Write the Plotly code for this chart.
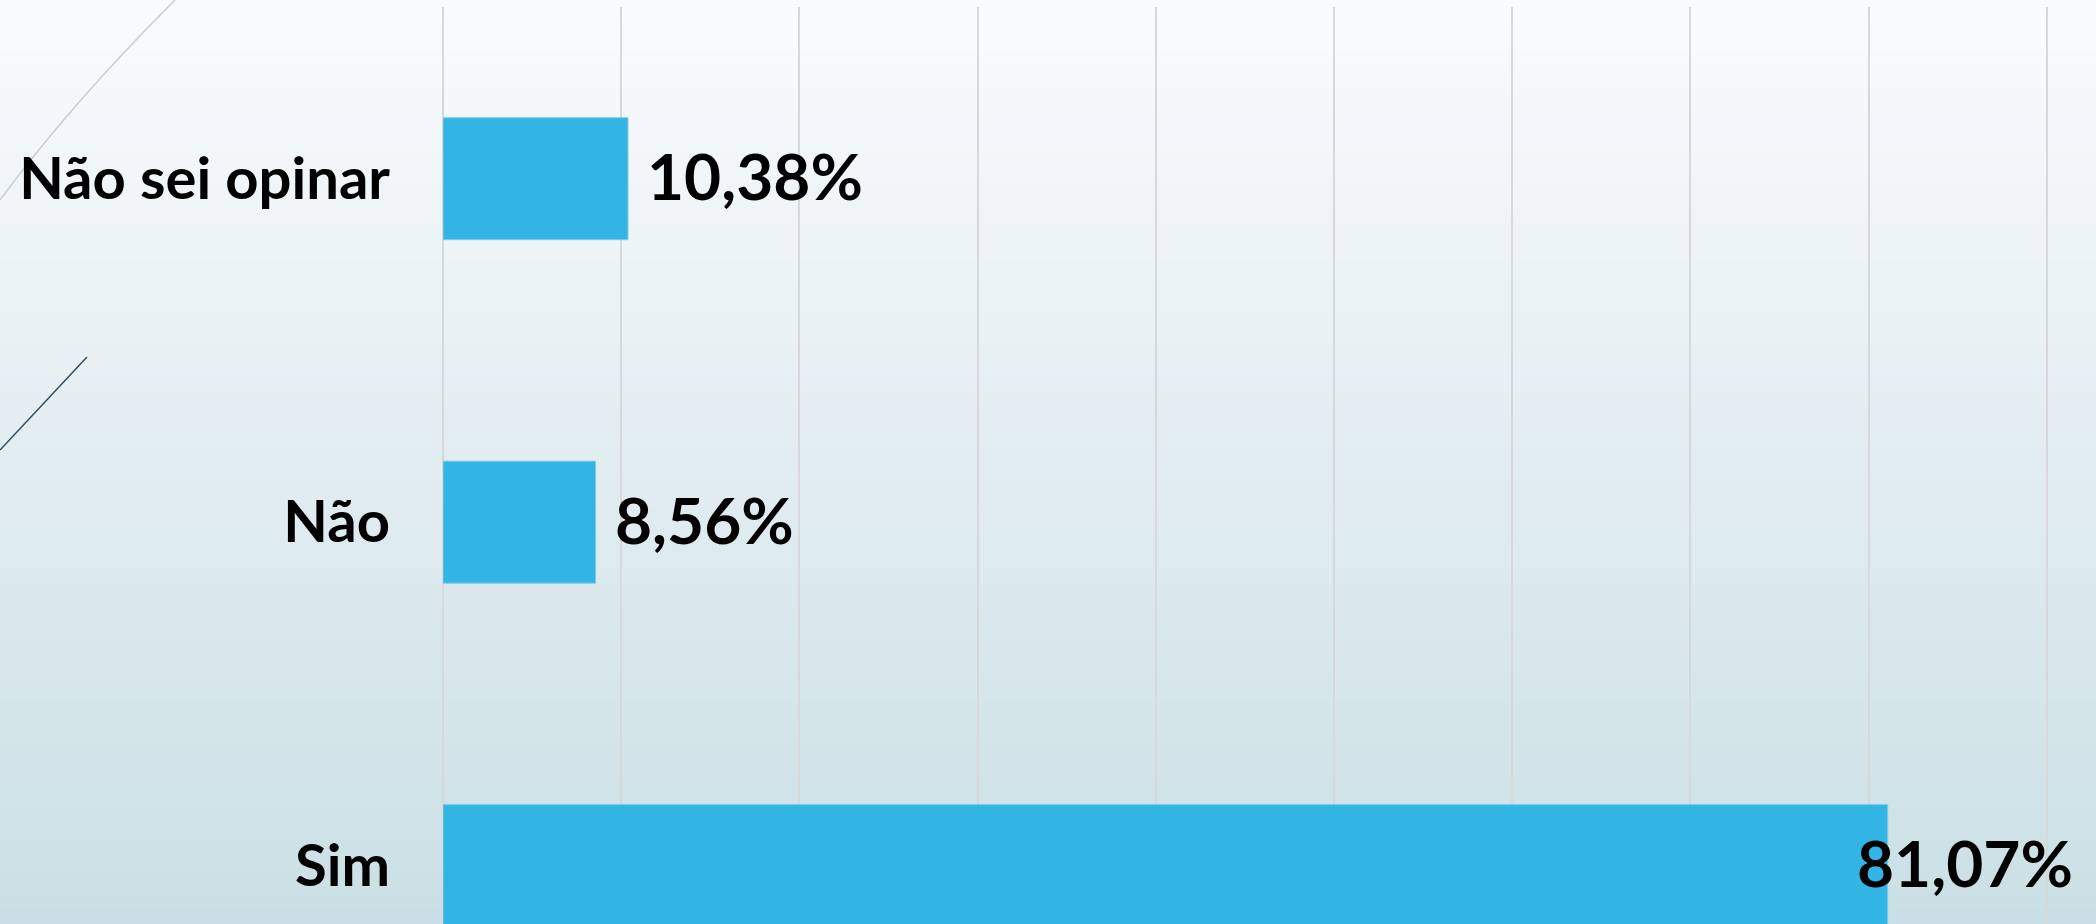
import plotly.graph_objects as go

categories = ["Sim", "Não", "Não sei opinar"]
values = [81.07, 8.56, 10.38]
value_labels = ["81,07%", "8,56%", "10,38%"]

W, H = 2096, 924
L_MARGIN = 443
T_MARGIN = 7

fig = go.Figure()
fig.add_trace(go.Bar(
    y=categories, x=values, orientation="h",
    marker=dict(color="#32B4E5", line=dict(color="#7CC9EA", width=1)),
    width=0.355, hoverinfo="skip",
))

# value labels
for cat, v, lab in zip(categories, values, value_labels):
    shift = -33 if v > 50 else 17
    fig.add_annotation(x=v, y=cat, text=lab, xanchor="left", yanchor="middle",
                       xshift=shift, yshift=3, showarrow=False,
                       font=dict(family="Lato", size=64, color="#000000", weight="bold"))

# background gradient bands
shapes = []
N = 120
top = (250, 251, 252)
bot = (202, 223, 229)
for i in range(N):
    t = i / (N - 1)
    c = tuple(round(top[k] + (bot[k] - top[k]) * t) for k in range(3))
    shapes.append(dict(type="rect", xref="paper", yref="paper",
                       x0=-1, x1=2, y0=1 - (i + 1) / N * 1.01,
                       y1=1 - i / N * 1.01 + 0.01,
                       fillcolor="rgb(%d,%d,%d)" % c, line=dict(width=0), layer="below"))

fig.update_layout(shapes=shapes)

# decorative lines (pixel -> paper conversions)
pw = W - L_MARGIN
ph = H - T_MARGIN
def px(x):
    return (x - L_MARGIN) / pw
def py(y):
    return 1 - (y - T_MARGIN) / ph

fig.add_shape(type="path", xref="paper", yref="paper",
              path=f"M {px(175)} {py(0)} Q {px(70)} {py(105)} {px(0)} {py(200)}",
              line=dict(color="#C5CED5", width=1.5), layer="below")
fig.add_shape(type="line", xref="paper", yref="paper",
              x0=px(87), y0=py(357), x1=px(0), y1=py(450),
              line=dict(color="#2E4B63", width=1.5), layer="below")

fig.update_layout(
    width=W, height=H,
    margin=dict(l=L_MARGIN, r=0, t=T_MARGIN, b=0, pad=0),
    paper_bgcolor="rgba(0,0,0,0)", plot_bgcolor="rgba(0,0,0,0)",
    showlegend=False,
    xaxis=dict(range=[0, (W - L_MARGIN) / 17.82], dtick=10, tick0=0,
               showgrid=True, gridcolor="#D6D8D9", gridwidth=1.5,
               zeroline=True, zerolinecolor="#D6D8D9", zerolinewidth=1.5,
               showticklabels=False, fixedrange=True, layer="below traces"),
    yaxis=dict(categoryorder="array", categoryarray=categories,
               range=[-0.17, 2.5], showgrid=False, zeroline=False,
               ticks="", ticklabelstandoff=52, fixedrange=True,
               tickfont=dict(family="Lato", size=58, color="#000000", weight="bold")),
)

fig.write_html("out.html", config={"displayModeBar": False},
               post_script="document.body.style.margin='0';document.body.style.overflow='hidden';")
